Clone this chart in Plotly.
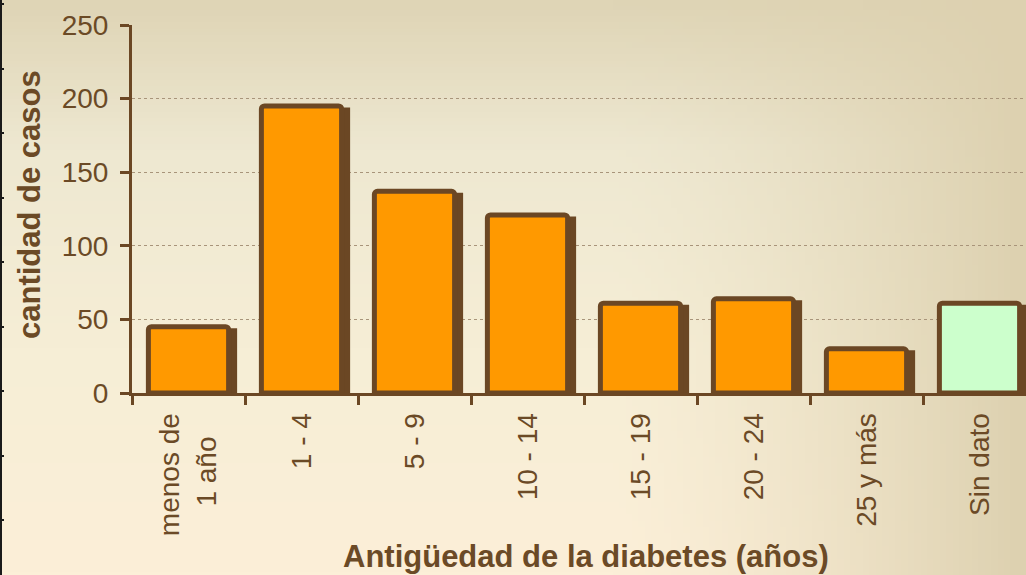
import base64, zlib, struct
import plotly.graph_objects as go

# ---------------- data ----------------
categories = ["menos de 1 año", "1 - 4", "5 - 9", "10 - 14", "15 - 19", "20 - 24", "25 y más", "Sin dato"]
tick_labels = ["menos de<br>1 año\u00a0\u00a0\u00a0", "1 - 4", "5 - 9", "10 - 14", "15 - 19", "20 - 24", "25 y más", "Sin dato"]
casos = [45, 195, 137, 121, 61, 64, 30, 61]
bar_colors = ["#ff9900"] * 7 + ["#ccffcc"]
y_ticks = [0, 50, 100, 150, 200, 250]

W, H = 1026, 575
L, R, T, B = 132, 0, 25, 182
PW, PH = W - L - R, H - T - B

BROWN = "#6b4724"
TXT = "#6b4a26"

# ---------------- background gradient as PNG ----------------
def lerp(a, b, t):
    return tuple(a[i] + (b[i] - a[i]) * t for i in range(3))

def bg_color(fx, fy):
    stops = [(0.0, (223, 213, 182)), (0.25, (238, 232, 209)), (0.6, (246, 238, 214)), (1.0, (252, 239, 216))]
    for i in range(len(stops) - 1):
        if stops[i][0] <= fy <= stops[i + 1][0]:
            t = (fy - stops[i][0]) / (stops[i + 1][0] - stops[i][0])
            c = lerp(stops[i][1], stops[i + 1][1], t)
            break
    if fx > 0.6:
        t = ((fx - 0.6) / 0.4) ** 1.4
        c = lerp(c, (221, 209, 176), t)
    return c

iw, ih = 160, 90
raw = bytearray()
for yy in range(ih):
    raw.append(0)
    for xx in range(iw):
        r, g, b = bg_color(xx / (iw - 1), yy / (ih - 1))
        raw += bytes((int(r), int(g), int(b)))

def chunk(tag, data):
    c = struct.pack(">I", len(data)) + tag + data
    return c + struct.pack(">I", zlib.crc32(tag + data) & 0xffffffff)

png = b"\x89PNG\r\n\x1a\n" + chunk(b"IHDR", struct.pack(">IIBBBBB", iw, ih, 8, 2, 0, 0, 0)) \
      + chunk(b"IDAT", zlib.compress(bytes(raw), 9)) + chunk(b"IEND", b"")
bg_uri = "data:image/png;base64," + base64.b64encode(png).decode()

# ---------------- figure ----------------
bar_w = 0.71
shadow_shift = 8.5 / 113.0
shadow_drop = 1.5 / (PH / 250.0)

fig = go.Figure()

fig.add_trace(go.Bar(
    x=categories, y=[v - shadow_drop for v in casos],
    width=bar_w, offset=-bar_w / 2 + shadow_shift,
    marker=dict(color=BROWN, line=dict(width=0)),
    hoverinfo="skip", showlegend=False,
))
fig.add_trace(go.Bar(
    x=categories, y=casos,
    width=bar_w, offset=-bar_w / 2,
    marker=dict(color=bar_colors, line=dict(color=BROWN, width=5), cornerradius=3),
    showlegend=False,
))

fig.update_layout(
    width=W, height=H,
    margin=dict(l=L, r=R, t=T, b=B, pad=0),
    barmode="overlay",
    paper_bgcolor="#f4ecd6",
    plot_bgcolor="rgba(0,0,0,0)",
    font=dict(family="Liberation Sans, Arial, sans-serif", color=TXT, size=28),
    images=[dict(source=bg_uri, xref="paper", yref="paper",
                 x=-L / PW, y=1 + T / PH, sizex=W / PW, sizey=H / PH,
                 xanchor="left", yanchor="top", sizing="stretch", layer="below")],
)

fig.update_xaxes(
    range=[-0.5, 7.5 - 10 / 113],
    tickmode="array", tickvals=categories, ticktext=tick_labels,
    showline=True, linecolor=BROWN, linewidth=3,
    ticks="outside", tickson="boundaries", ticklen=9, tickwidth=3, tickcolor=BROWN,
    tickangle=-90, tickfont=dict(size=28, color=TXT),
    ticklabelstandoff=6,
    showgrid=False, zeroline=False, fixedrange=True,
)
fig.update_yaxes(
    range=[0, 250], tickvals=y_ticks,
    showline=True, linecolor=BROWN, linewidth=3,
    ticks="outside", ticklen=9, tickwidth=3, tickcolor=BROWN,
    tickfont=dict(size=28, color=TXT), ticklabelstandoff=6,
    showgrid=True, gridcolor="#a8947a", gridwidth=1, griddash="dot",
    zeroline=False,
)

fig.add_annotation(text="<b>Antigüedad de la diabetes (años)</b>", xref="paper", yref="paper",
                   x=(586 - L) / PW, y=(393 - 556) / PH, xanchor="center", yanchor="middle",
                   showarrow=False, font=dict(size=31, color=TXT))
fig.add_annotation(text="<b>cantidad de casos</b>", xref="paper", yref="paper",
                   x=(30 - L) / PW, y=(393 - 205) / PH, xanchor="center", yanchor="middle",
                   textangle=-90, showarrow=False, font=dict(size=31, color=TXT))

def px_x(p):
    return (p - L) / PW
def px_y(p):
    return (H - B - p) / PH

fig.add_shape(type="line", xref="paper", yref="paper", x0=px_x(1), x1=px_x(1), y0=px_y(0), y1=px_y(H),
              line=dict(color="#1a1a1a", width=2))
for ty in [4, 69, 133, 198, 262, 327, 391, 456, 520]:
    fig.add_shape(type="line", xref="paper", yref="paper", x0=px_x(0), x1=px_x(4), y0=px_y(ty), y1=px_y(ty),
                  line=dict(color="#1a1a1a", width=2))

fig.write_html("out.html", config={"displayModeBar": False},
               post_script="document.body.style.margin='0';document.body.style.overflow='hidden';")
